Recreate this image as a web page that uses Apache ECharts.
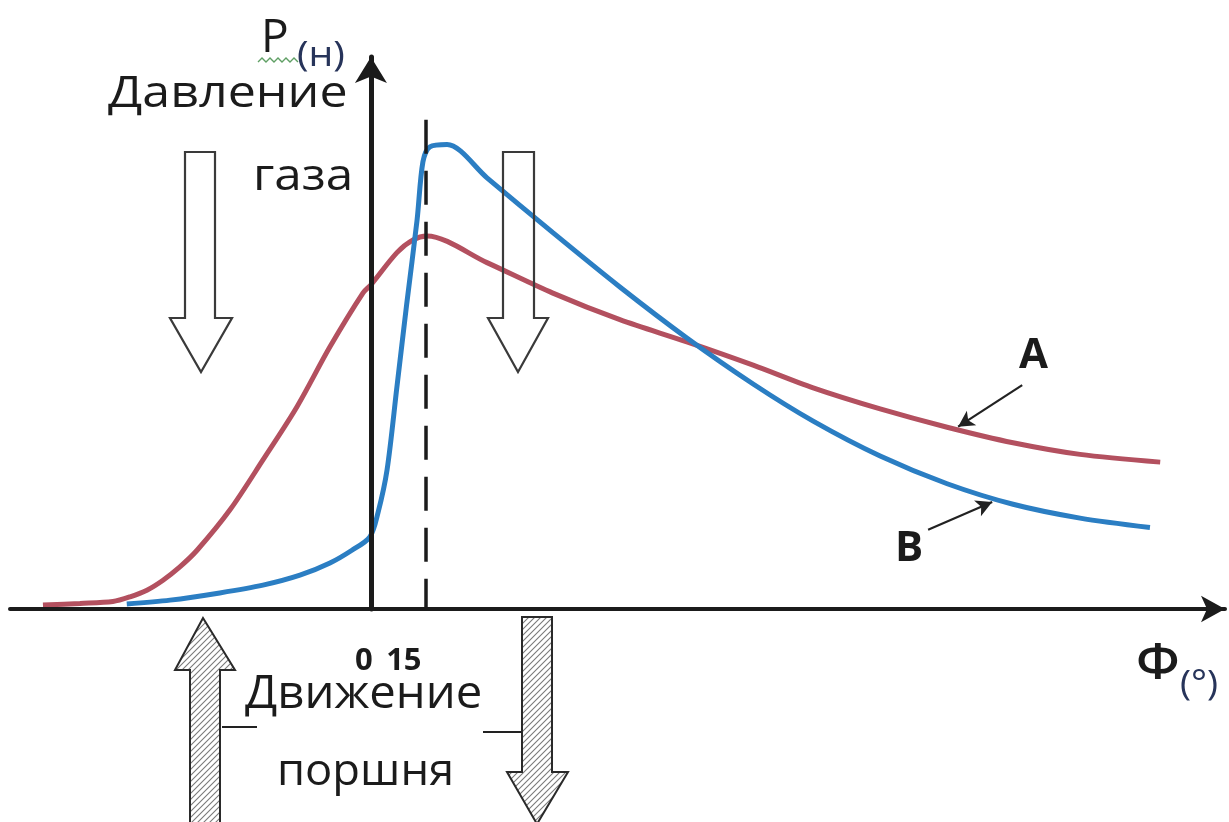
<!DOCTYPE html>
<html><head><meta charset="utf-8">
<script src="https://cdn.jsdelivr.net/npm/echarts@6/dist/echarts.min.js"></script>
<style>html,body{margin:0;padding:0;background:#fff}#c{width:1229px;height:822px}</style>
</head><body><div id="c"></div>
<script>
// Crank angle (degrees) and gas pressure (relative units)
const anglesA   = [-89.6,-79.5,-70.5,-65.8,-61.2,-56.8,-52.2,-47.5,-38.5,-29.5,-20.2,-11.2,-2.2,0,7.1,11.5,15.3,31.7,49.7,68,86.3,104.4,120.8,139.1,157.4,175.4,193.7,215.6];
const pressureA = [0.7,1.0,1.35,2.2,3.4,5.2,7.6,10.6,17.9,26.9,36.5,47.3,57.0,58.5,64.3,66.6,67.3,62.5,57.0,52.2,48.2,44.0,39.9,36.1,32.8,30.0,27.9,26.5];
const anglesB   = [-66.7,-54.9,-41.3,-29.5,-19.4,-11.2,-5.2,-0.3,1.9,4.4,7.1,9.8,12.6,14.2,16.1,20.8,31.7,49.7,68,86.3,104.4,120.8,139.1,157.4,175.4,193.7,212.8];
const pressureB = [0.9,1.6,2.9,4.3,6.1,8.3,10.6,13.0,17.3,25.1,40.1,55.2,70.2,80.7,83.4,83.8,77.8,67.9,58.1,48.9,40.6,33.9,27.6,22.6,18.9,16.4,14.7];
const tickValues = [0, 15];
const tickLabels = ['0', '15'];
const markerAngle = 15;
const markerTop = 88.3;
const seriesNames = ['A', 'B'];

const FONT = '"Open Sans", "Noto Sans", sans-serif';
const INK = '#1b1b1b';

function hatch() {
  const c = document.createElement('canvas');
  c.width = 6; c.height = 6;
  const g = c.getContext('2d');
  g.fillStyle = '#fff'; g.fillRect(0, 0, 6, 6);
  g.strokeStyle = '#7a7a7a'; g.lineWidth = 1.1;
  g.beginPath();
  g.moveTo(-3, 3); g.lineTo(3, -3);
  g.moveTo(0, 6); g.lineTo(6, 0);
  g.moveTo(3, 9); g.lineTo(9, 3);
  g.stroke();
  return c;
}
const hatchFill = { image: hatch(), repeat: 'repeat' };

function txt(text, x, y, size, opts) {
  opts = opts || {};
  return { type: 'text', x: x, y: y, z: 20, scaleX: opts.sx || 1, originX: 0, originY: 0,
    style: {
      text: text, font: (opts.weight || 'normal') + ' ' + size + 'px ' + FONT,
      fill: opts.color || INK, align: 'left', verticalAlign: 'middle' } };
}
function poly(points, style) {
  return { type: 'polygon', z: 15, shape: { points: points }, style: style };
}
const hollow = { fill: 'none', stroke: '#3a3a3a', lineWidth: 2.2 };
const hatched = { fill: hatchFill, stroke: '#2a2a2a', lineWidth: 2 };

const squiggle = [];
for (let i = 0; i <= 10; i++) squiggle.push([258 + i * 4, i % 2 ? 58 : 62]);

const chart = echarts.init(document.getElementById('c'), null, { renderer: 'canvas' });
chart.setOption({
  animation: false,
  backgroundColor: '#ffffff',
  grid: { left: 10, right: 4, top: 57, bottom: 213, containLabel: false, outerBoundsMode: 'none' },
  xAxis: {
    type: 'value', min: -98.6, max: 233.3, z: 5,
    axisLine: { show: true, symbol: ['none', 'arrow'], symbolSize: [20, 24],
      lineStyle: { color: INK, width: 4 } },
    axisTick: { show: false }, splitLine: { show: false },
    axisLabel: {
      customValues: tickValues, margin: 37, color: INK,
      formatter: v => v === 0 ? '{a|' + tickLabels[0] + '}' : '{b|' + tickLabels[1] + '}',
      rich: {
        a: { fontSize: 31, fontWeight: 'bold', fontFamily: FONT, color: INK, padding: [0, 14, 0, 0] },
        b: { fontSize: 31, fontWeight: 'bold', fontFamily: FONT, color: INK, padding: [0, 44, 0, 0] }
      }
    }
  },
  yAxis: {
    type: 'value', min: 0, max: 99.6, z: 5,
    axisLine: { show: true, onZero: true, symbol: ['none', 'arrow'], symbolSize: [24, 26],
      lineStyle: { color: INK, width: 5 } },
    axisTick: { show: false }, splitLine: { show: false }, axisLabel: { show: false }
  },
  series: [
    {
      name: seriesNames[0], type: 'line', smooth: 0.3, showSymbol: false, z: 3,
      data: anglesA.map((x, i) => [x, pressureA[i]]),
      lineStyle: { color: '#b3505f', width: 5 }, itemStyle: { color: '#b3505f' },
      markLine: {
        silent: true, symbol: ['none', 'arrow'], symbolSize: [13, 16],
        label: { show: false },
        lineStyle: { color: '#222', width: 2.2, type: 'solid' },
        data: [[{ coord: [177.9, 40.4] }, { coord: [160.4, 32.9] }]]
      }
    },
    {
      name: seriesNames[1], type: 'line', smooth: 0.3, showSymbol: false, z: 4,
      data: anglesB.map((x, i) => [x, pressureB[i]]),
      lineStyle: { color: '#2b7ec3', width: 5 }, itemStyle: { color: '#2b7ec3' },
      markLine: {
        silent: true, symbol: ['none', 'arrow'], symbolSize: [13, 16],
        label: { show: false },
        lineStyle: { color: '#222', width: 2.2, type: 'solid' },
        data: [
          [{ coord: [152.2, 14.3] }, { coord: [169.7, 19.3] }],
          [{ coord: [markerAngle, markerTop], symbol: 'none' },
           { coord: [markerAngle, 0], symbol: 'none',
             lineStyle: { color: '#1b1b1b', width: 3.5, type: [34, 17] } }]
        ]
      }
    }
  ],
  graphic: [
    // gas pressure arrows (hollow)
    poly([[185,152],[215,152],[215,318],[232,318],[201,372],[170,318],[185,318]], hollow),
    poly([[503,152],[534,152],[534,318],[548,318],[518,372],[488,318],[503,318]], hollow),
    // piston movement arrows (hatched)
    poly([[203,618],[235,670],[220,670],[220,830],[190,830],[190,670],[175,670]], hatched),
    poly([[522,617],[552,617],[552,772],[568,772],[537,824],[507,772],[522,772]], hatched),
    { type: 'line', z: 15, shape: { x1: 222, y1: 727, x2: 257, y2: 727 }, style: { stroke: '#222', lineWidth: 2 } },
    { type: 'line', z: 15, shape: { x1: 483, y1: 732, x2: 522, y2: 732 }, style: { stroke: '#222', lineWidth: 2 } },
    { type: 'polyline', z: 15, shape: { points: squiggle }, style: { stroke: '#5f9f64', lineWidth: 1.4, fill: 'none' } },
    txt('P', 261, 39, 46),
    txt('(н)', 297, 56, 35, { color: '#27345a', sx: 1.12 }),
    txt('Давление', 108, 94, 44, { sx: 1.14 }),
    txt('газа', 253, 178, 43, { sx: 1.15 }),
    txt('Движение', 245, 695, 45, { sx: 1.05 }),
    txt('поршня', 277, 772, 44, { sx: 1.03 }),
    txt('A', 1019, 356, 42, { weight: 'bold' }),
    txt('B', 895, 549, 42, { weight: 'bold' }),
    txt('Ф', 1136, 665, 48, { weight: '600', sx: 1.1 }),
    txt('(°)', 1180, 685, 34, { color: '#27345a', sx: 1.1 })
  ]
});
</script></body></html>
